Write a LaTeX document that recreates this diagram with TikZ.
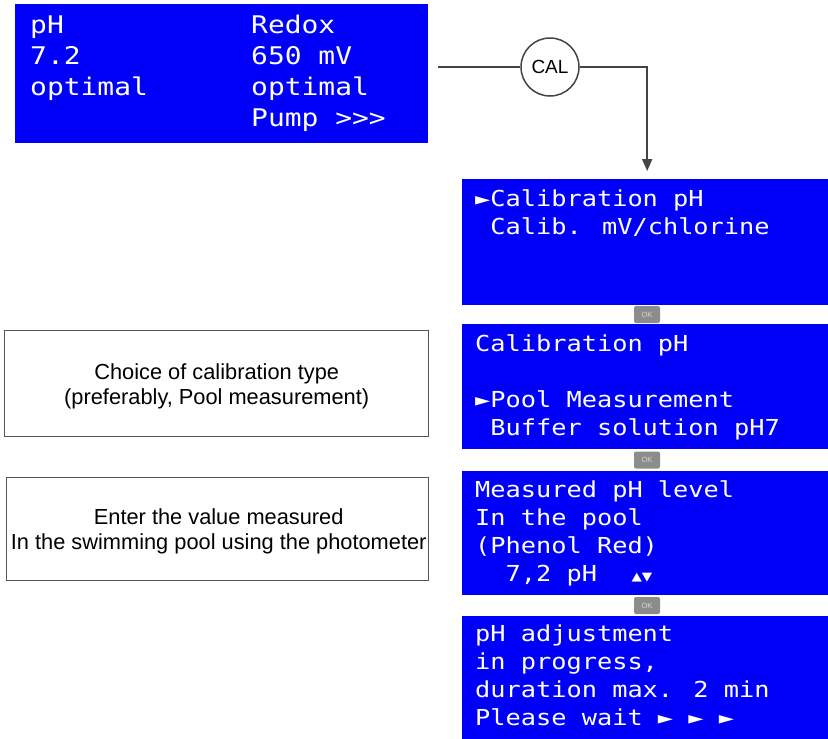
\documentclass[tikz,border=0pt]{standalone}
\usepackage{fontspec}
\setmainfont{Liberation Sans}
\newfontfamily\lcdfont[FakeStretch=1.15]{DejaVu Sans Mono}
\usetikzlibrary{arrows.meta}

\definecolor{lcdblue}{RGB}{0,0,250}
\definecolor{wire}{RGB}{68,68,68}
\definecolor{framegray}{RGB}{85,85,85}
\definecolor{okfill}{RGB}{140,140,140}
\definecolor{oktext}{RGB}{215,215,215}

% lines of an LCD screen: size, line pitch, rows
\newcommand\lcdlines[3]{{\fontsize{#1}{#2}\selectfont\begin{tabular}[t]{@{}l@{}}#3\end{tabular}}}

\begin{document}
\begin{tikzpicture}[x=1pt,y=-1pt,
  screen/.style={fill=lcdblue, draw=none, inner sep=0, anchor=north west},
  lcd/.style={text=white, inner sep=0, anchor=base west, font=\lcdfont},
  okbtn/.style={fill=okfill, rounded corners=2pt, minimum width=26pt, minimum height=17pt,
                inner sep=0, text=oktext, font=\fontsize{7.5}{7.5}\selectfont},
  note/.style={draw=framegray, line width=1.4pt, fill=white, inner sep=0, anchor=north west},
  notetext/.style={align=center, font=\fontsize{21.8}{25}\selectfont, inner sep=0},
  wireline/.style={draw=wire, line width=1.8pt},
  calbtn/.style={circle, draw=wire, line width=1.5pt, minimum size=58pt, inner sep=0,
                 font=\fontsize{19}{19}\selectfont}]
\useasboundingbox (0,0) rectangle (828,739);

% main display
\node[screen, minimum width=413pt, minimum height=139pt] (s1) at (15,4) {};
\node[lcd] (s1l) at (30,33) {\lcdlines{24.3}{31}{pH\\7.2\\optimal}};
\node[lcd] (s1r) at (251,33) {\lcdlines{24.3}{31}{Redox\\650 mV\\optimal\\Pump >>>}};

% calibration menu
\node[screen, minimum width=366pt, minimum height=126pt] (s2) at (462,179) {};
\node[lcd] (s2t) at (475,206) {\lcdlines{22}{28}{►Calibration pH\\\ Calib. mV/chlorine}};

\node[screen, minimum width=366pt, minimum height=125pt] (s3) at (462,324) {};
\node[lcd] (s3t) at (475,351.5) {\lcdlines{22}{28}{Calibration pH\\\ \\►Pool Measurement\\\ Buffer solution pH7}};

\node[screen, minimum width=366pt, minimum height=124pt] (s4) at (462,471) {};
\node[lcd] (s4t) at (475,497) {\lcdlines{22}{28}{Measured pH level\\In the pool\\(Phenol Red)\\\ \ 7,2 pH\ \ \hspace{4pt}{\fontsize{15}{15}\selectfont ▲▼}}};

\node[screen, minimum width=366pt, minimum height=123pt] (s5) at (462,616) {};
\node[lcd] (s5t) at (475,641.5) {\lcdlines{22}{28}{pH adjustment\\in progress,\\duration max. 2 min\\Please wait ► ► ►}};

% OK keys between screens
\node[okbtn] (ok1) at (647,314.5) {OK};
\node[okbtn] (ok2) at (647,460) {OK};
\node[okbtn] (ok3) at (647,605.5) {OK};

% explanatory notes
\node[note, minimum width=424pt, minimum height=106pt] (n1) at (4,330) {};
\node[notetext] (n1t) at ([yshift=-3pt]n1.center) {Choice of calibration type\\(preferably, Pool measurement)};
\node[note, minimum width=422pt, minimum height=103pt] (n2) at (6,477) {};
\node[notetext] (n2t) at ([shift={(1pt,-2pt)}]n2.center) {Enter the value measured\\In the swimming pool using the photometer};

% CAL key and connector
\coordinate (start) at (438,67);
\node[calbtn] (cal) at (550,67) {CAL};
\draw[wireline] (start) -- (cal.west);
\draw[wireline, -{Triangle[width=10pt,length=12pt]}] (cal.east) -| ([shift={(2,-8)}]s2.north);
\end{tikzpicture}
\end{document}
